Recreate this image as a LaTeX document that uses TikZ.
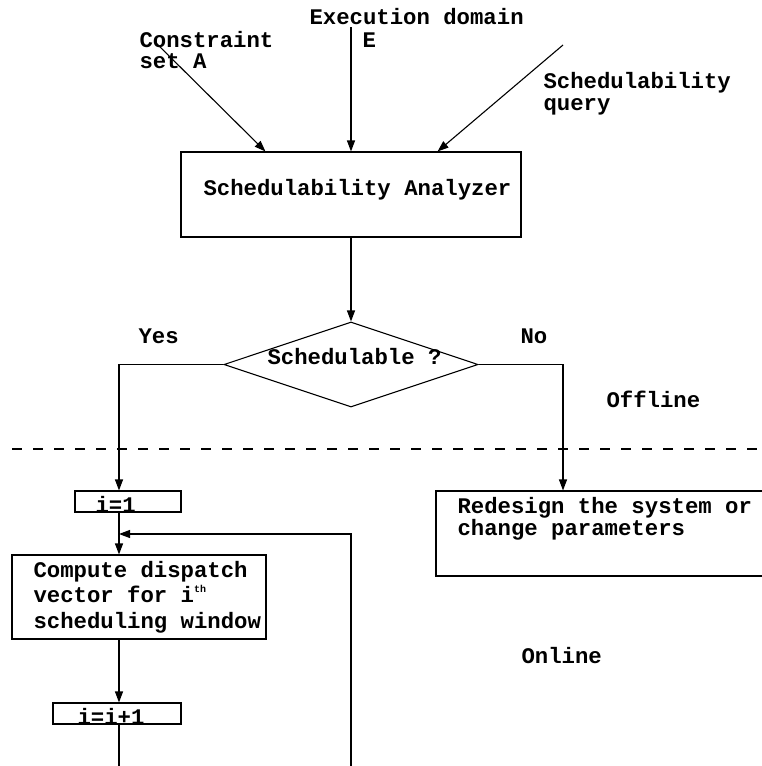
\documentclass[tikz,border=0pt]{standalone}
\usepackage{fontspec}
\setmonofont{Liberation Mono}
\usetikzlibrary{shapes.geometric,arrows.meta,calc}
\begin{document}
\begin{tikzpicture}[x=1pt,y=-1pt,
  line width=1.1pt,
  arr/.style={-{Triangle[length=11pt,width=8pt]}},
  box/.style={draw,rectangle,inner sep=0pt},
  txt/.style={anchor=base west,inner sep=0pt,font=\ttfamily\bfseries\fontsize{22.3}{26}\selectfont}
]
\useasboundingbox (0,0) rectangle (762,766);
% boxes
\node[box,minimum width=340pt,minimum height=85pt] (ana) at (351,194.5) {};
\node[draw,diamond,inner sep=0pt,minimum width=254pt,minimum height=85pt] (dia) at (351,364.5) {};
\node[box,minimum width=106pt,minimum height=21pt] (i1) at (128,501.5) {};
\node[box,minimum width=254pt,minimum height=84pt] (comp) at (139,597) {};
\node[box,minimum width=128pt,minimum height=21pt] (inc) at (117,713.5) {};
\node[box,minimum width=334pt,minimum height=85pt] (red) at (603,533.5) {};
% texts
\node[txt] (tcons1) at (139,47) {Constraint};
\node[txt] (tcons2) at (139,68) {set A};
\node[txt] (texec1) at (309,24) {Execution domain};
\node[txt] (texec2) at (362,47) {E};
\node[txt] (tq1) at (543,88) {Schedulability};
\node[txt] (tq2) at (543,110) {query};
\node[txt] (tana) at (203,195) {Schedulability Analyzer};
\node[txt] (tdia) at (267,364) {Schedulable ?};
\node[txt] (tyes) at (138,343) {Yes};
\node[txt] (tno) at (520,343) {No};
\node[txt] (toff) at (606,407) {Offline};
\node[txt] (ton) at (521,663) {Online};
\node[txt] (ti1) at (95,512) {i=1};
\node[txt] (tc1) at (33,577) {Compute dispatch};
\node[txt] (tc2) at (33,602) {vector for i\raisebox{10pt}{\fontsize{10}{11}\selectfont th}};
\node[txt] (tc3) at (33,628) {scheduling window};
\node[txt] (tinc) at (77,724) {i=i+1};
\node[txt] (tr1) at (457,513) {Redesign the system or};
\node[txt] (tr2) at (457,535) {change parameters};
% coordinates
\coordinate (sA) at (155,42);
\coordinate (sE) at (351,27);
\coordinate (sQ) at (563,45);
\coordinate (colx) at (119,0);
\coordinate (colr) at (563,0);
\coordinate (lt) at (351,534);
\coordinate (lb) at (351,770);
\coordinate (dl) at (12,449);
\coordinate (dr) at (762,449);
% connectors
\draw[arr] (sA) -- ($(ana.north west)+(85,0)$);
\draw[arr] (sE) -- (ana.north);
\draw[arr] (sQ) -- ($(ana.north east)+(-84,0)$);
\draw[arr] (ana.south) -- (dia.north);
\draw[arr] (dia.west) -| (colx |- i1.north);
\draw[arr] (dia.east) -| (colr |- red.north);
\draw[arr] (colx |- i1.south) -- (colx |- comp.north);
\draw[arr] (lb) -- (lt) -- (colx |- lt);
\draw[arr] (colx |- comp.south) -- (colx |- inc.north);
\draw (colx |- inc.south) -- (colx |- lb);
\draw[dash pattern=on 10pt off 11pt] (dl) -- (dr);
\end{tikzpicture}
\end{document}
